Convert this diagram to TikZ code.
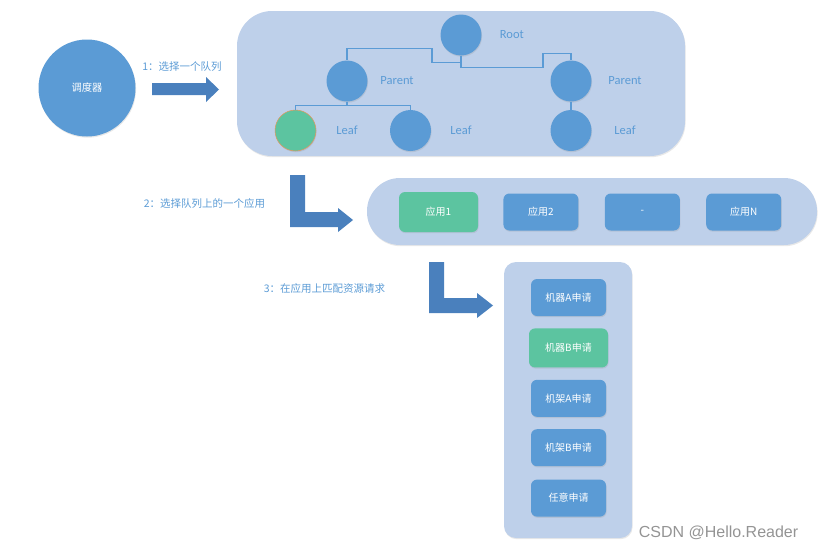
\documentclass[tikz,border=0pt]{standalone}
\usepackage{fontspec}
\setmainfont{Carlito}
\newfontfamily\cjk{Noto Sans CJK SC}
\newfontfamily\wmfont{Liberation Sans}
\usetikzlibrary{positioning,shadows}

\definecolor{nodeblue}{RGB}{91,155,213}
\definecolor{nodegreen}{RGB}{92,196,160}
\definecolor{panelblue}{RGB}{190,208,234}
\definecolor{arrowblue}{RGB}{74,128,189}
\definecolor{leafrim}{RGB}{230,150,90}

\begin{document}
\begin{tikzpicture}[x=1pt,y=-1pt,
	softshadow/.style={drop shadow={opacity=0.18,shadow xshift=0.6pt,shadow yshift=-1.2pt}},
	panel/.style={fill=panelblue,softshadow},
	circ/.style={circle,fill=nodeblue,minimum size=41pt,inner sep=0pt,softshadow},
	box/.style={rectangle,rounded corners=6pt,fill=nodeblue,minimum width=75pt,minimum height=37pt,
		inner sep=0pt,text=white,font=\cjk\fontsize{10}{12}\selectfont,softshadow},
	tlabel/.style={inner sep=0pt,text=nodeblue,font=\fontsize{12.5}{14}\selectfont},
	steptext/.style={inner sep=0pt,text=nodeblue,font=\cjk\fontsize{10.5}{12}\selectfont},
	link/.style={draw=nodeblue,line width=1.2pt},
	blockarrow/.style={fill=arrowblue}
	]
	\useasboundingbox (0,0) rectangle (818,549);

	% panels
	\node[panel,minimum width=448pt,minimum height=145pt,rounded corners=35pt] (queues) at (461,83.5) {};
	\node[panel,minimum width=450pt,minimum height=67pt,rounded corners=33pt] (apps) at (592,211.5) {};
	\node[panel,minimum width=128pt,minimum height=276pt,rounded corners=12pt] (reqs) at (568,400) {};

	% scheduler
	\node[circ,minimum size=97pt,text=white,font=\cjk\fontsize{10.3}{12}\selectfont] (sched) at (87,88) {调度器};

	% queue tree
	\node[circ] (root) at (461,35) {};
	\node[circ] (pl) at (347,81) {};
	\node[circ] (pr) at (571,81) {};
	\node[circ,fill=nodegreen,draw=leafrim,line width=0.5pt] (l1) at (295.5,130.5) {};
	\node[circ] (l2) at (410.5,130.5) {};
	\node[circ] (l3) at (571,130.5) {};

	\node[tlabel,right=18pt of root] (rootlbl) {Root};
	\node[tlabel,right=12.5pt of pl] (pllbl) {Parent};
	\node[tlabel,right=16.5pt of pr] (prlbl) {Parent};
	\node[tlabel,right=20pt of l1] (l1lbl) {Leaf};
	\node[tlabel,right=19pt of l2] (l2lbl) {Leaf};
	\node[tlabel,right=22.5pt of l3] (l3lbl) {Leaf};

	\draw[link] (root.south) -- ++(0,7) -- ++(-29,0) -- ++(0,-14) -| (pl.north);
	\draw[link] (root.south) -- ++(0,12) -- ++(82,0) -- ++(0,-14) -| (pr.north);
	\draw[link] (pl.south) -- ++(0,4) coordinate (fork);
	\draw[link] (l1.north) |- (fork) -| (l2.north);
	\draw[link] (pr.south) -- (l3.north);

	% applications
	\node[box,fill=nodegreen,minimum width=79pt,minimum height=40pt] (a1) at (438.5,212) {应用1};
	\node[box,right=25pt of a1] (a2) {应用2};
	\node[box,right=26pt of a2] (a3) {-};
	\node[box,right=26pt of a3] (a4) {应用N};

	% requests
	\node[box] (r1) at (568.5,297.5) {机器A申请};
	\node[box,fill=nodegreen,minimum width=79pt,minimum height=39pt,below=12pt of r1] (r2) {机器B申请};
	\node[box,below=12pt of r2] (r3) {机架A申请};
	\node[box,below=12pt of r3] (r4) {机架B申请};
	\node[box,below=13pt of r4] (r5) {任意申请};

	% step arrows
	\fill[blockarrow] (152,83) -- ++(54,0) -- ++(0,-6) -- ++(13,12.5) -- ++(-13,12.5)
		-- ++(0,-7) -- ++(-54,0) -- cycle;
	\fill[blockarrow] (290,175) -- ++(15,0) -- ++(0,37) -- ++(33,0) -- ++(0,-4) -- ++(15,12)
		-- ++(-15,12) -- ++(0,-5) -- ++(-48,0) -- cycle;
	\fill[blockarrow] (429,262) -- ++(15,0) -- ++(0,36) -- ++(33,0) -- ++(0,-5) -- ++(16,12.5)
		-- ++(-16,12.5) -- ++(0,-5) -- ++(-48,0) -- cycle;

	\node[steptext] (s1) at (182,67) {1：选择一个队列};
	\node[steptext] (s2) at (204.5,203) {2：选择队列上的一个应用};
	\node[steptext] (s3) at (324.5,288) {3：在应用上匹配资源请求};

	\node[text=black!42,font=\wmfont\fontsize{16}{18}\selectfont] (wm) at (718.5,533) {CSDN @Hello.Reader};
\end{tikzpicture}
\end{document}
